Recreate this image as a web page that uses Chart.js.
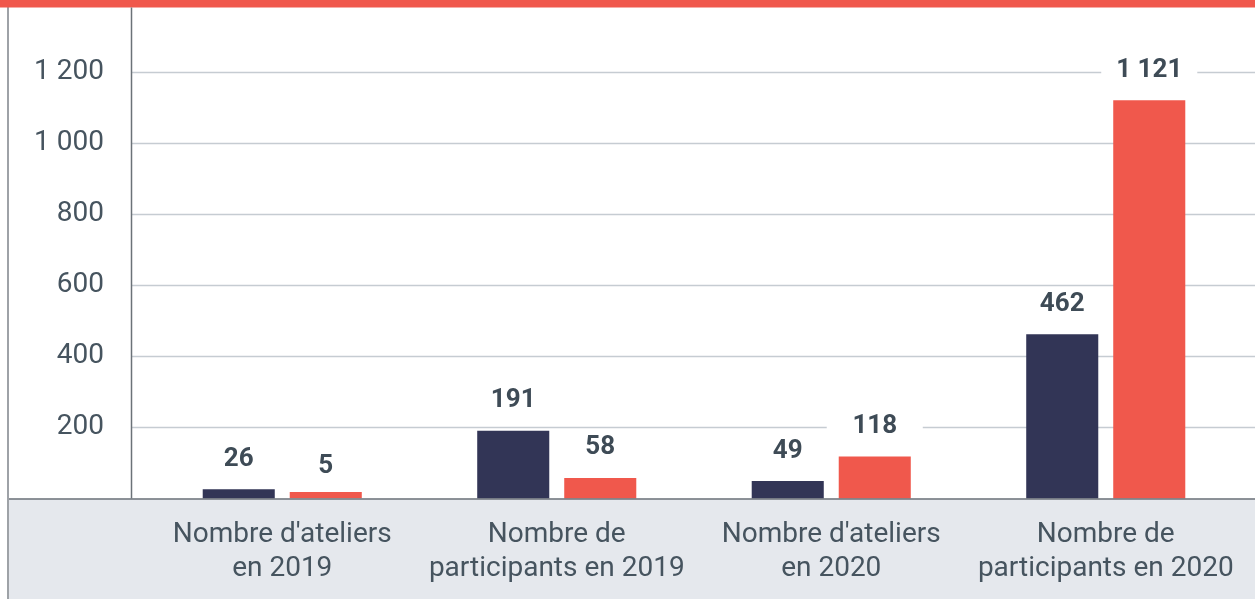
<!DOCTYPE html>
<html lang="fr">
<head>
<meta charset="utf-8">
<script src="https://cdn.jsdelivr.net/npm/chart.js@4"></script>
<style>
  html, body { margin: 0; padding: 0; background: #fff; }
  #wrap { width: 1255px; height: 599px; position: relative; }
</style>
</head>
<body>
<div id="wrap"><canvas id="ateliers"></canvas></div>
<script>
// Categories (two-line labels) and values
const categories = [
  ["Nombre d'ateliers", "en 2019"],
  ["Nombre de", "participants en 2019"],
  ["Nombre d'ateliers", "en 2020"],
  ["Nombre de", "participants en 2020"]
];
const serieNavy = [26, 191, 49, 462];
const serieRed = [5, 58, 118, 1121];
const yTicks = [200, 400, 600, 800, 1000, 1200];

const NAVY = "#323556";
const RED = "#f0584c";
const TEXT = "#46545f";
const LABEL = "#3e4b56";
const GRID = "#c6ccd2";
const AXIS = "#6b7278";
const BAND = "#e5e8ed";

// "1 200" style thousands
const fmt = v => String(v).replace(/\B(?=(\d{3})+(?!\d))/g, " ");

/* background frame: red top strip, grey band under the axis */
const framePlugin = {
  id: "frame",
  beforeDraw(chart) {
    const { ctx, width, height, scales } = chart;
    const y0 = scales.y.getPixelForValue(0);
    ctx.save();
    ctx.fillStyle = "#ffffff";
    ctx.fillRect(0, 0, width, height);
    ctx.fillStyle = BAND;
    ctx.fillRect(9, y0, width - 9, height - y0);
    ctx.fillStyle = "#9ea2a7";
    ctx.fillRect(7, 0, 2, height);
    ctx.fillStyle = RED;
    ctx.fillRect(0, 0, width, 7.5);
    ctx.restore();
  },
  beforeDatasetsDraw(chart) {
    const { ctx, width, scales } = chart;
    const y = scales.y;
    const y0 = y.getPixelForValue(0);
    ctx.save();
    ctx.lineWidth = 1.5;
    ctx.strokeStyle = GRID;
    yTicks.forEach(v => {
      const py = Math.round(y.getPixelForValue(v)) + 0.5;
      ctx.beginPath();
      ctx.moveTo(131, py);
      ctx.lineTo(width, py);
      ctx.stroke();
    });
    ctx.strokeStyle = AXIS;
    ctx.beginPath();
    ctx.moveTo(131.5, 7.5);
    ctx.lineTo(131.5, y0);
    ctx.stroke();
    ctx.restore();
  }
};

/* axis line over the bar feet, then value labels on white boxes */
const valuePlugin = {
  id: "values",
  afterDatasetsDraw(chart) {
    const { ctx, width, scales } = chart;
    const y = scales.y;
    const y0 = y.getPixelForValue(0);
    ctx.save();
    ctx.fillStyle = BAND;
    ctx.fillRect(9, y0 + 1, width - 9, 3);
    ctx.lineWidth = 1.5;
    ctx.strokeStyle = AXIS;
    ctx.beginPath();
    ctx.moveTo(9, y0 + 0.5);
    ctx.lineTo(width, y0 + 0.5);
    ctx.stroke();

    ctx.font = "bold 26px Roboto";
    ctx.textAlign = "center";
    ctx.textBaseline = "middle";
    chart.data.datasets.forEach((ds, di) => {
      chart.getDatasetMeta(di).data.forEach((bar, i) => {
        const cy = y.getPixelForValue(ds.data[i]) - 31;
        ctx.fillStyle = "#ffffff";
        ctx.fillRect(bar.x - bar.width / 2 - 12, cy - 15, bar.width + 24, 30);
        ctx.fillStyle = LABEL;
        ctx.fillText(fmt(ds.data[i]), bar.x, cy + 1);
      });
    });
    ctx.restore();
  }
};

new Chart(document.getElementById("ateliers"), {
  type: "bar",
  data: {
    labels: categories,
    datasets: [
      { data: serieNavy, backgroundColor: NAVY, base: -5, minBarLength: 6.5 },
      { data: serieRed, backgroundColor: RED, base: -5, minBarLength: 6.5 }
    ]
  },
  options: {
    responsive: true,
    maintainAspectRatio: false,
    animation: false,
    layout: { padding: { top: 1, right: 12, left: 0, bottom: 0 } },
    datasets: { bar: { categoryPercentage: 0.634, barPercentage: 0.828 } },
    plugins: { legend: { display: false }, tooltip: { enabled: false } },
    scales: {
      x: {
        grid: { display: false, drawTicks: false },
        border: { display: false },
        afterFit: axis => {
          axis.height = 100.5;
          axis.paddingLeft = 0;
          axis.paddingRight = 0;
        },
        ticks: {
          autoSkip: false,
          maxRotation: 0,
          padding: 19,
          color: TEXT,
          font: { family: "Roboto", size: 28, lineHeight: 1.22 }
        }
      },
      y: {
        min: 0,
        max: 1400,
        grid: { display: false, drawTicks: false },
        border: { display: false },
        afterBuildTicks: axis => { axis.ticks = yTicks.map(v => ({ value: v })); },
        afterFit: axis => {
          axis.width = 145;
          axis.paddingTop = 0;
          axis.paddingBottom = 0;
        },
        ticks: {
          padding: 41,
          color: TEXT,
          font: { family: "Roboto", size: 28 },
          callback: v => fmt(v)
        }
      }
    }
  },
  plugins: [framePlugin, valuePlugin]
});
</script>
</body>
</html>
